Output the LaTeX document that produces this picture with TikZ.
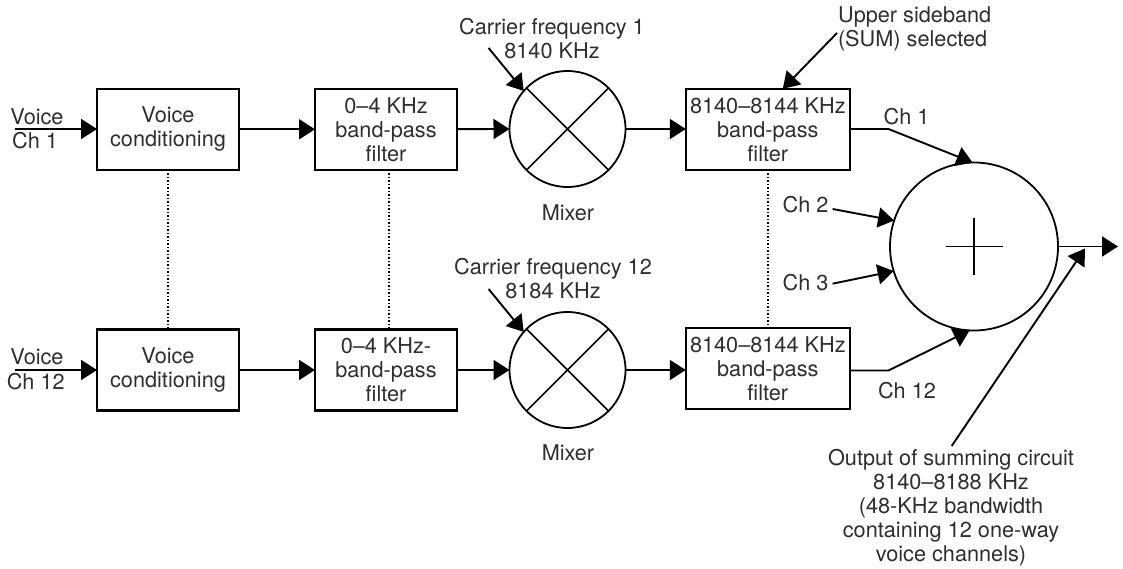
\documentclass[tikz,border=0pt]{standalone}
\usepackage{fontspec}
\setmainfont{TeX Gyre Heros}
\usetikzlibrary{arrows.meta}
\definecolor{inkc}{HTML}{2E2E2E}
\tikzset{
  txt/.style={inner sep=0pt,outer sep=0pt,align=center,text=inkc,font=\fontsize{21.7}{24}\selectfont},
  blockbox/.style={txt,draw=black,line width=2.2pt,minimum height=81pt},
  roundnode/.style={circle,draw=black,line width=1.8pt,inner sep=0pt,outer sep=0pt},
  conn/.style={line width=1.9pt,draw=black},
  arr/.style={conn,-{Triangle[length=16pt,width=20pt]}},
  dots/.style={line width=1.5pt,dash pattern=on 1.5pt off 2pt},
  thin cross/.style={line width=1.7pt}
}
\begin{document}
\begin{tikzpicture}[x=1pt,y=-1pt]
\useasboundingbox (0,0) rectangle (1123,569);
% blocks
\node[blockbox,minimum width=142pt] (b1) at (168,129.3) {Voice\\conditioning};
\node[blockbox,minimum width=142pt] (b2) at (386,129.3) {0–4 KHz\\band-pass\\filter};
\node[blockbox,minimum width=164pt] (b3) at (767.8,129.3) {8140–8144 KHz\\band-pass\\filter};
\node[blockbox,minimum width=142pt] (b4) at (168,370) {Voice\\conditioning};
\node[blockbox,minimum width=142pt] (b5) at (386,370) {0–4 KHz-\\band-pass\\filter};
\node[blockbox,minimum width=164pt] (b6) at (767.8,368.5) {8140–8144 KHz\\band-pass\\filter};
% mixers and sum
\node[roundnode,minimum size=116pt] (m1) at (567.5,129) {};
\node[roundnode,minimum size=116pt] (m2) at (567.5,370) {};
\node[roundnode,minimum size=168pt] (s) at (974,246.5) {};
\draw[thin cross] (m1.45) -- (m1.225) (m1.135) -- (m1.315);
\draw[thin cross] (m2.45) -- (m2.225) (m2.135) -- (m2.315);
\coordinate (pl) at (945.5,246.5); \coordinate (pr) at (1002.6,246.5);
\coordinate (pt) at (974,218); \coordinate (pb) at (974,275);
\draw[thin cross] (pl) -- (pr) (pt) -- (pb);
% free ends
\coordinate (in1) at (15,129); \coordinate (in2) at (15,370);
\coordinate (out) at (1118,246.5);
\coordinate (c1) at (488.6,48); \coordinate (c2) at (488.6,289);
\coordinate (us) at (837,33);
\coordinate (e1) at (888.5,129); \coordinate (e12) at (888.5,370.5);
\coordinate (f2) at (832.6,209); \coordinate (f3) at (832.6,283.7);
\coordinate (lead) at (951.7,446); \coordinate (leadtip) at (1085,248.5);
% labels
\node[txt] (lv1) at (37,116.7) {Voice};
\node[txt] (lc1) at (35,141) {Ch 1};
\node[txt] (lv2) at (37,356.7) {Voice};
\node[txt] (lc2) at (35.7,381.7) {Ch 12};
\node[txt] (cf1) at (552,39) {Carrier frequency 1\\8140 KHz};
\node[txt] (cf2) at (553,279) {Carrier frequency 12\\8184 KHz};
\node[txt] (mx1) at (568,213) {Mixer};
\node[txt] (mx2) at (568,453) {Mixer};
\node[txt,anchor=west,align=left] (usb) at (838,29) {Upper sideband\\(SUM) selected};
\node[txt] (t1) at (906.6,117) {Ch 1};
\node[txt] (t2) at (805.5,205) {Ch 2};
\node[txt] (t3) at (805.5,283) {Ch 3};
\node[txt] (t12) at (907,390.7) {Ch 12};
\node[txt] (ot) at (951,508) {Output of summing circuit\\8140–8188 KHz\\(48-KHz bandwidth\\containing 12 one-way\\voice channels)};
% connectors
\draw[arr] (in1) -- (b1.west |- in1);
\draw[arr] (b1) -- (b2);
\draw[arr] (b2) -- (m1.west);
\draw[arr] (m1.east) -- (b3.west |- m1);
\draw[arr] (in2) -- (b4.west |- in2);
\draw[arr] (b4) -- (b5);
\draw[arr] (b5) -- (m2.west);
\draw[arr] (m2.east) -- (b6.west |- m2.east);
\draw[arr] (c1) -- (m1.139);
\draw[arr] (c2) -- (m2.139);
\draw[arr] (us) -- ([xshift=15pt]b3.north);
\draw[arr] (b3.east |- e1) -- (e1) -- (s.91);
\draw[arr] (b6.east |- e12) -- (e12) -- (s.267);
\draw[arr] (f2) -- (s.162.5);
\draw[arr] (f3) -- (s.197.5);
\draw[arr] (s.east) -- (out);
\draw[arr] (lead) -- (leadtip);
\draw[dots] (b1.south) -- (b4.north);
\draw[dots] (b2.south -| 389,0) -- (b5.north -| 389,0);
\draw[dots] (b3.south) -- (b6.north);
\end{tikzpicture}
\end{document}
